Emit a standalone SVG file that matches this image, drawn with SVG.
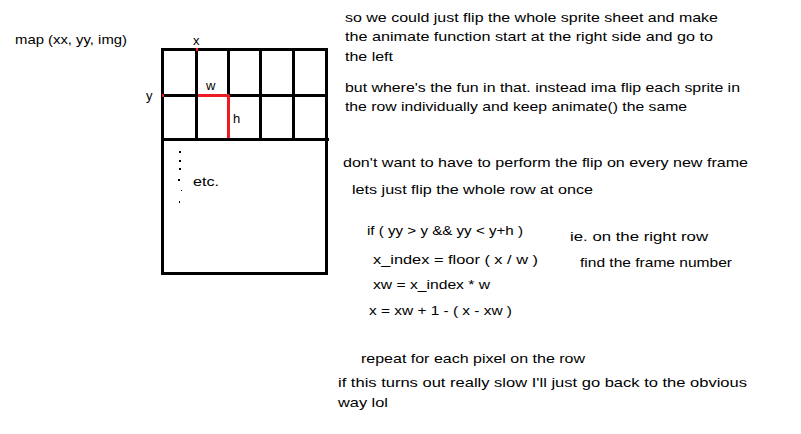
<svg xmlns="http://www.w3.org/2000/svg" width="801" height="434" viewBox="0 0 801 434">
<style>
text{font-family:"Liberation Sans",Arial,sans-serif;font-size:13px;fill:#000}
.g{stroke:#000;stroke-width:3;fill:none;shape-rendering:crispEdges}
.r{stroke:#ed1c24;stroke-width:3;fill:none;shape-rendering:crispEdges}
.d{fill:#000}
</style>
<rect width="801" height="434" fill="#fff"/>
<g id="sheet">
<rect class="g" x="162.5" y="49.5" width="164" height="224"/>
<line class="g" x1="162" y1="95.5" x2="327" y2="95.5"/>
<line class="g" x1="162" y1="139.5" x2="329" y2="139.5"/>
<line class="g" x1="196.5" y1="49" x2="196.5" y2="139"/>
<line class="g" x1="228.5" y1="49" x2="228.5" y2="139"/>
<line class="g" x1="260.5" y1="49" x2="260.5" y2="139"/>
<line class="g" x1="293.5" y1="49" x2="293.5" y2="139"/>
<line class="r" x1="196" y1="49.5" x2="198" y2="49.5"/>
<line class="r" x1="162" y1="95.5" x2="164" y2="95.5"/>
<line class="r" x1="198" y1="95.5" x2="229" y2="95.5"/>
<line class="r" x1="228.5" y1="95" x2="228.5" y2="138"/>
<rect class="d" x="179" y="151" width="2" height="2"/>
<rect class="d" x="179" y="160" width="2" height="2"/>
<rect class="d" x="179" y="168" width="2" height="2"/>
<rect class="d" x="178" y="179" width="2" height="2"/>
<rect class="d" x="181" y="190" width="1" height="1"/>
<rect class="d" x="179" y="201" width="1" height="2"/>
<text x="193" y="45">x</text>
<text x="146" y="100">y</text>
<text x="206" y="90">w</text>
<text x="233" y="123">h</text>
<text x="193" y="186" textLength="26" lengthAdjust="spacingAndGlyphs">etc.</text>
<text x="15" y="44" textLength="112" lengthAdjust="spacingAndGlyphs">map (xx, yy, img)</text>
</g>
<g id="notes">
<text x="345" y="22" textLength="373" lengthAdjust="spacingAndGlyphs">so we could just flip the whole sprite sheet and make</text>
<text x="345" y="41" textLength="368" lengthAdjust="spacingAndGlyphs">the animate function start at the right side and go to</text>
<text x="345" y="61" textLength="48" lengthAdjust="spacingAndGlyphs">the left</text>
<text x="345" y="92" textLength="395" lengthAdjust="spacingAndGlyphs">but where's the fun in that. instead ima flip each sprite in</text>
<text x="345" y="111" textLength="342" lengthAdjust="spacingAndGlyphs">the row individually and keep animate() the same</text>
<text x="343" y="167" textLength="405" lengthAdjust="spacingAndGlyphs">don't want to have to perform the flip on every new frame</text>
<text x="352" y="194" textLength="241" lengthAdjust="spacingAndGlyphs">lets just flip the whole row at once</text>
<text x="367" y="235" textLength="156" lengthAdjust="spacingAndGlyphs">if ( yy &gt; y &amp;&amp; yy &lt; y+h )</text>
<text x="570" y="241" textLength="138" lengthAdjust="spacingAndGlyphs">ie. on the right row</text>
<text x="373" y="264" textLength="165" lengthAdjust="spacingAndGlyphs">x_index = floor ( x / w )</text>
<text x="580" y="267" textLength="152" lengthAdjust="spacingAndGlyphs">find the frame number</text>
<text x="373" y="289" textLength="117" lengthAdjust="spacingAndGlyphs">xw = x_index * w</text>
<text x="369" y="315" textLength="143" lengthAdjust="spacingAndGlyphs">x = xw + 1 - ( x - xw )</text>
<text x="361" y="363" textLength="224" lengthAdjust="spacingAndGlyphs">repeat for each pixel on the row</text>
<text x="338" y="387" textLength="409" lengthAdjust="spacingAndGlyphs">if this turns out really slow I'll just go back to the obvious</text>
<text x="338" y="407" textLength="50" lengthAdjust="spacingAndGlyphs">way lol</text>
</g>
</svg>
